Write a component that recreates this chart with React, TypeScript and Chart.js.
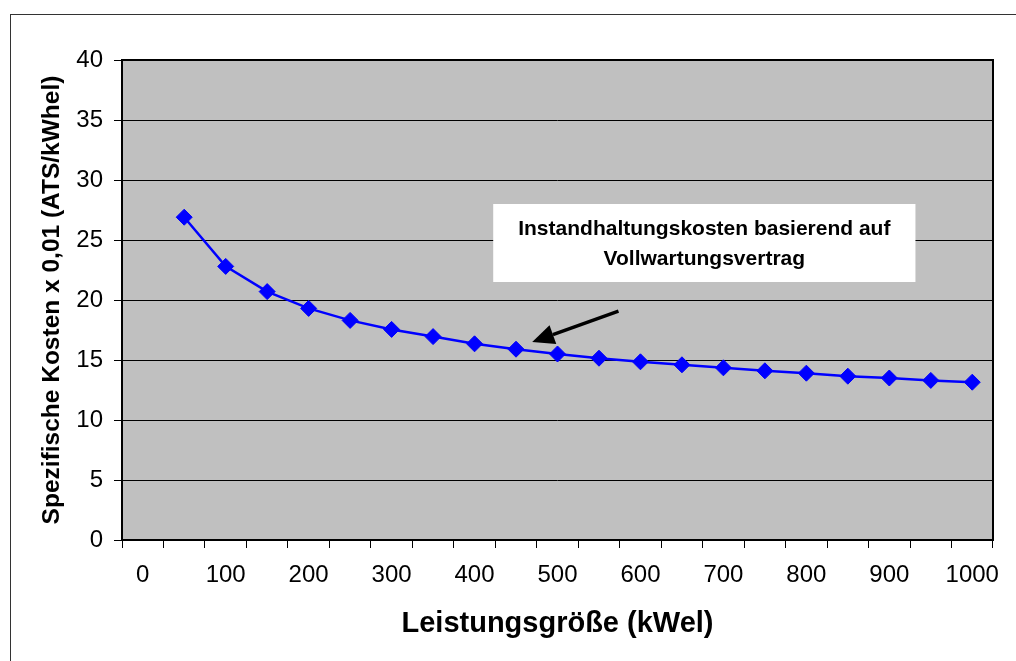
import { useEffect, useRef } from 'react';
import { Chart, registerables } from 'chart.js';

Chart.register(...registerables);

const categories = ['0', '50', '100', '150', '200', '250', '300', '350', '400', '450', '500', '550', '600', '650', '700', '750', '800', '850', '900', '950', '1000'];
const xTickLabels = ['0', '100', '200', '300', '400', '500', '600', '700', '800', '900', '1000'];
const costValues = [null, 26.9, 22.8, 20.7, 19.3, 18.3, 17.55, 16.95, 16.35, 15.9, 15.5, 15.15, 14.85, 14.6, 14.35, 14.1, 13.9, 13.65, 13.5, 13.3, 13.15];
const annotationLines = ['Instandhaltungskosten basierend auf', 'Vollwartungsvertrag'];
// annotation box and arrow in data coordinates (category index, value)
const annotationBox = { x0: 8.45, x1: 18.63, y0: 28.0, y1: 21.5 };
const arrowFrom = { x: 11.47, y: 19.08 };
const arrowTo = { x: 9.39, y: 16.5 };

const FONT = "'Liberation Sans', Arial, sans-serif";

const decorPlugin = {
  id: 'decor',
  beforeDraw(chart: any) {
    const { ctx, chartArea, width, height } = chart;
    ctx.save();
    ctx.fillStyle = '#ffffff';
    ctx.fillRect(0, 0, width, height);
    ctx.strokeStyle = '#333333';
    ctx.lineWidth = 1;
    ctx.strokeRect(10.5, 14.5, width + 20, height + 20);
    ctx.fillStyle = '#C0C0C0';
    ctx.fillRect(chartArea.left, chartArea.top, chartArea.right - chartArea.left, chartArea.bottom - chartArea.top);
    ctx.restore();
  },
  afterDraw(chart: any) {
    const { ctx, chartArea } = chart;
    const xs = chart.scales.x;
    const ys = chart.scales.y;
    ctx.save();
    // plot border
    ctx.strokeStyle = '#000000';
    ctx.lineWidth = 2;
    ctx.strokeRect(chartArea.left, chartArea.top, chartArea.right - chartArea.left, chartArea.bottom - chartArea.top);

    // annotation box
    const bx0 = xs.getPixelForValue(annotationBox.x0);
    const bx1 = xs.getPixelForValue(annotationBox.x1);
    const by0 = ys.getPixelForValue(annotationBox.y0);
    const by1 = ys.getPixelForValue(annotationBox.y1);
    ctx.fillStyle = '#ffffff';
    ctx.fillRect(bx0, by0, bx1 - bx0, by1 - by0);
    ctx.fillStyle = '#000000';
    ctx.font = `bold 21px ${FONT}`;
    ctx.textAlign = 'center';
    ctx.textBaseline = 'alphabetic';
    const cx = (bx0 + bx1) / 2;
    const midY = (by0 + by1) / 2;
    ctx.fillText(annotationLines[0], cx, midY - 8);
    ctx.fillText(annotationLines[1], cx, midY + 22);

    // arrow
    const ax0 = xs.getPixelForValue(arrowFrom.x);
    const ay0 = ys.getPixelForValue(arrowFrom.y);
    const ax1 = xs.getPixelForValue(arrowTo.x);
    const ay1 = ys.getPixelForValue(arrowTo.y);
    const ang = Math.atan2(ay1 - ay0, ax1 - ax0);
    const headLen = 22;
    const headHalf = 10;
    const bxh = ax1 - headLen * Math.cos(ang);
    const byh = ay1 - headLen * Math.sin(ang);
    ctx.strokeStyle = '#000000';
    ctx.lineWidth = 3.5;
    ctx.beginPath();
    ctx.moveTo(ax0, ay0);
    ctx.lineTo(bxh, byh);
    ctx.stroke();
    ctx.beginPath();
    ctx.moveTo(ax1, ay1);
    ctx.lineTo(bxh + headHalf * Math.sin(ang), byh - headHalf * Math.cos(ang));
    ctx.lineTo(bxh - headHalf * Math.sin(ang), byh + headHalf * Math.cos(ang));
    ctx.closePath();
    ctx.fill();
    ctx.restore();
  },
};

export default function App() {
  const canvasRef = useRef<HTMLCanvasElement | null>(null);

  useEffect(() => {
    const canvas = canvasRef.current;
    if (!canvas) return;
    const chart = new Chart(canvas, {
      type: 'line',
      data: {
        labels: categories,
        datasets: [
          {
            data: costValues,
            borderColor: '#0000FF',
            backgroundColor: '#0000FF',
            borderWidth: 2.5,
            tension: 0,
            pointStyle: 'rectRot',
            pointRadius: 8,
            pointBackgroundColor: '#0000FF',
            pointBorderColor: '#0000FF',
            pointBorderWidth: 1,
          },
        ],
      },
      options: {
        animation: false,
        responsive: false,
        devicePixelRatio: 1,
        layout: { padding: { top: 60, right: 23, bottom: 0, left: 0 } },
        plugins: {
          legend: { display: false },
          tooltip: { enabled: false },
        },
        scales: {
          x: {
            type: 'category',
            offset: true,
            grid: {
              offset: true,
              drawOnChartArea: false,
              drawTicks: true,
              tickLength: 8,
              color: '#000000',
              lineWidth: 1,
            },
            border: { display: false },
            ticks: {
              autoSkip: false,
              maxRotation: 0,
              minRotation: 0,
              padding: 13,
              color: '#000000',
              font: { family: FONT, size: 24 },
              callback: (_v: any, idx: number) => (idx % 2 === 0 ? xTickLabels[idx / 2] : ''),
            },
            title: {
              display: true,
              text: 'Leistungsgröße (kWel)',
              color: '#000000',
              font: { family: FONT, size: 29, weight: 'bold' },
              padding: { top: 0, bottom: 20 },
            },
            afterFit: (s: any) => {
              s.height = 121;
            },
          },
          y: {
            min: 0,
            max: 40,
            ticks: {
              stepSize: 5,
              padding: 11,
              color: '#000000',
              font: { family: FONT, size: 24 },
            },
            grid: {
              color: '#000000',
              lineWidth: 1,
              tickLength: 8,
              drawTicks: true,
            },
            border: { display: false },
            title: {
              display: true,
              text: 'Spezifische Kosten x 0,01 (ATS/kWhel)',
              color: '#000000',
              font: { family: FONT, size: 24.5, weight: 'bold' },
              padding: { top: 38, bottom: 0 },
            },
            afterFit: (s: any) => {
              s.width = 122;
            },
          },
        },
      },
      plugins: [decorPlugin],
    } as any);
    return () => chart.destroy();
  }, []);

  return (
    <div style={{ position: 'absolute', left: 0, top: 0, width: 1016, height: 661 }}>
      <canvas ref={canvasRef} width={1016} height={661} style={{ display: 'block', width: 1016, height: 661 }} />
    </div>
  );
}
